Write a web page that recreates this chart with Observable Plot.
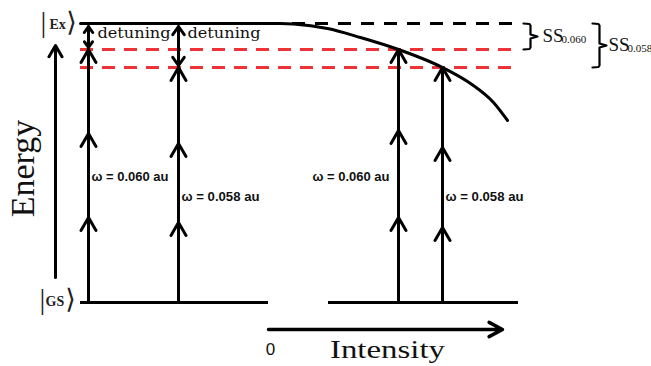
<!DOCTYPE html>
<html>
<head>
<meta charset="utf-8">
<script src="https://cdn.jsdelivr.net/npm/d3@7"></script>
<script src="https://cdn.jsdelivr.net/npm/@observablehq/plot@0.6"></script>
<style>
  html, body { margin: 0; padding: 0; background: #fff; }
</style>
</head>
<body>
<div id="chart"></div>
<script>
// Energy levels, in schematic units above the ground state |GS⟩
const groundLevel = 0;
const excitedLevel = 279;
const threePhotonLevels = [253, 235];          // 3ω for ω = 0.060 and 0.058 au
const omegaLabels = ["ω = 0.060 au", "ω = 0.058 au"];
const shiftLabels = ["0.060", "0.058"];

// Photon ladders: position of each column along the intensity direction,
// which frequency it uses, and the rungs reached by each absorbed photon
const columnIntensity = [88, 178, 398, 442];
const columnOmega = [0, 1, 0, 1];
const ladderRungs = [
  [0, 85, 169, 253],
  [0, 80, 159, 235],
  [0, 85, 172, 253],
  [0, 75, 155, 235]
];

// Field-dressed (Stark-shifted) excited level versus intensity
const starkIntensity = [80, 280, 293, 327, 360, 398, 442, 470, 493, 507];
const starkEnergy    = [279, 279, 278.5, 274, 265, 253, 235, 219, 200, 182];

const RED = "#ee3338";
const SERIF = "Liberation Serif";
const SANS = "Liberation Sans";

// one arrow per absorbed photon
const photons = [];
columnIntensity.forEach((x, c) => {
  const r = ladderRungs[c];
  for (let i = 0; i < r.length - 1; i++) photons.push({x, from: r[i], to: r[i + 1]});
});

// frequency label for each ladder; the third one sits left of its arrow
const ladders = columnIntensity.map((x, i) => ({
  x, omega: columnOmega[i], left: i === 2
}));

// detuning double arrows in the field-free panel (first two columns)
const detuning = [0, 1].map(c => ({
  x: columnIntensity[c],
  low: threePhotonLevels[columnOmega[c]],
  high: excitedLevel
}));

// curly brace between the unshifted level and a three-photon level
function brace(x0, top, bottom, w) {
  const mid = (top + bottom) / 2, xm = x0 + w / 2;
  return [
    {x: x0, e: top}, {x: xm - 1, e: top - 0.5}, {x: xm, e: top - 2},
    {x: xm, e: mid + 2}, {x: x0 + w, e: mid}, {x: xm, e: mid - 2},
    {x: xm, e: bottom + 2}, {x: xm - 1, e: bottom + 0.5}, {x: x0, e: bottom}
  ];
}

const starkCurve = starkIntensity.map((x, i) => ({x, e: starkEnergy[i]}));

const omegaText = {
  y: d => d.omega === 0 ? 122 : 102,
  text: d => omegaLabels[d.omega],
  lineAnchor: "bottom",
  fontFamily: SANS, fontWeight: "bold", fontSize: 12, fill: "#111"
};

const chart = Plot.plot({
  width: 651,
  height: 366,
  margin: 0,
  x: {domain: [0, 651], axis: null},
  y: {domain: [-64, 302], axis: null},
  style: {background: "white", overflow: "visible"},
  marks: [
    // ground-state lines of both panels
    Plot.ruleY([{a: 80, b: 268}, {a: 328, b: 518}], {
      y: () => groundLevel, x1: "a", x2: "b", stroke: "black", strokeWidth: 3
    }),
    // three-photon levels
    Plot.ruleY(threePhotonLevels, {
      y: d => d, x1: () => 80, x2: () => 520, stroke: RED, strokeWidth: 3, strokeDasharray: "13,9"
    }),
    // unshifted excited level beyond zero intensity
    Plot.ruleY([excitedLevel], {
      y: d => d, x1: () => 292, x2: () => 522, stroke: "black", strokeWidth: 3, strokeDasharray: "13,10"
    }),
    // excited level and its Stark shift with intensity
    Plot.line(starkCurve, {x: "x", y: "e", curve: "monotone-x", stroke: "black", strokeWidth: 3}),
    // photon ladders
    Plot.arrow(photons, {
      x1: "x", x2: "x", y1: "from", y2: "to",
      stroke: "black", strokeWidth: 3, headLength: 7.5, headAngle: 60
    }),
    // detuning arrows (both directions)
    Plot.arrow(detuning, {
      x1: "x", x2: "x", y1: d => d.low + 1, y2: d => d.high - 3,
      stroke: "black", strokeWidth: 3, headLength: 5, headAngle: 70
    }),
    Plot.arrow(detuning, {
      x1: "x", x2: "x", y1: d => d.high - 3, y2: d => d.low + 2,
      stroke: "black", strokeWidth: 3, headLength: 5, headAngle: 70
    }),
    // energy axis
    Plot.arrow([{x: 55, a: 25, b: 257}], {
      x1: "x", x2: "x", y1: "a", y2: "b",
      stroke: "black", strokeWidth: 3, headLength: 6.5, headAngle: 60
    }),
    // intensity axis
    Plot.arrow([{a: 268, b: 502, e: -27}], {
      x1: "a", x2: "b", y1: "e", y2: "e",
      stroke: "black", strokeWidth: 3.5, headLength: 6.5, headAngle: 56
    }),
    // braces for the Stark shifts
    Plot.line(brace(523, excitedLevel, threePhotonLevels[0], 14), {
      x: "x", y: "e", stroke: "black", strokeWidth: 2.2
    }),
    Plot.line(brace(592, excitedLevel, threePhotonLevels[1], 14), {
      x: "x", y: "e", stroke: "black", strokeWidth: 2.2
    }),

    // state labels
    Plot.text([{x: 43, e: 280}, {x: 42, e: 3}], {
      x: "x", y: "e", text: () => "|", fontFamily: SERIF, fontSize: 29, fill: "#222"
    }),
    Plot.text([{x: 71, e: 280, t: "⟩"}, {x: 70, e: 3, t: "⟩"}], {
      x: "x", y: "e", text: "t", fontFamily: "DejaVu Sans", fontSize: 27, fill: "#222"
    }),
    Plot.text([{x: 49, e: 274, t: "Ex"}, {x: 45, e: -3, t: "GS"}], {
      x: "x", y: "e", text: "t", textAnchor: "start", lineAnchor: "bottom",
      fontFamily: SERIF, fontWeight: "bold", fontSize: 14, fill: "#222"
    }),

    // detuning labels
    Plot.text(detuning, {
      x: d => d.x + 9, y: () => 264.3, text: () => "detuning",
      textAnchor: "start", lineAnchor: "bottom",
      fontFamily: "DejaVu Serif", fontSize: 15, fill: "#111"
    }),

    // photon frequency labels
    Plot.text(ladders.filter(d => !d.left), {x: d => d.x + 3, textAnchor: "start", ...omegaText}),
    Plot.text(ladders.filter(d => d.left), {x: d => d.x - 9, textAnchor: "end", ...omegaText}),

    // Stark-shift labels
    Plot.text([{x: 542, e: 260.3}, {x: 608, e: 252}], {
      x: "x", y: "e", text: () => "SS", textAnchor: "start", lineAnchor: "bottom",
      fontFamily: SERIF, fontSize: 19, fill: "#111"
    }),
    Plot.text([{x: 561, e: 259.3, t: shiftLabels[0]}, {x: 627, e: 250.3, t: shiftLabels[1]}], {
      x: "x", y: "e", text: "t", textAnchor: "start", lineAnchor: "bottom",
      fontFamily: SERIF, fontSize: 11, fill: "#111"
    }),

    // axis titles
    Plot.text(["Energy"], {
      x: () => 33, y: () => 134, text: d => d, rotate: -90, lineAnchor: "bottom",
      fontFamily: SERIF, fontSize: 34, fill: "#111"
    }),
    Plot.text(["Intensity"], {
      x: () => 387, y: () => -55.3, text: d => d, lineAnchor: "bottom",
      fontFamily: SERIF, fontSize: 26, fill: "#111"
    }),
    Plot.text(["0"], {
      x: () => 270, y: () => -52, text: d => d, lineAnchor: "bottom",
      fontFamily: SANS, fontSize: 17, fill: "#111"
    })
  ]
});

// widen a few labels to their set lengths
const labelLengths = {"detuning": 73, "Intensity": 115, "ω = 0.060 au": 77, "ω = 0.058 au": 78};
d3.select(chart).selectAll("text").each(function () {
  const len = labelLengths[this.textContent];
  if (len) {
    this.setAttribute("textLength", len);
    this.setAttribute("lengthAdjust", "spacingAndGlyphs");
  }
});

document.getElementById("chart").append(chart);
</script>
</body>
</html>
